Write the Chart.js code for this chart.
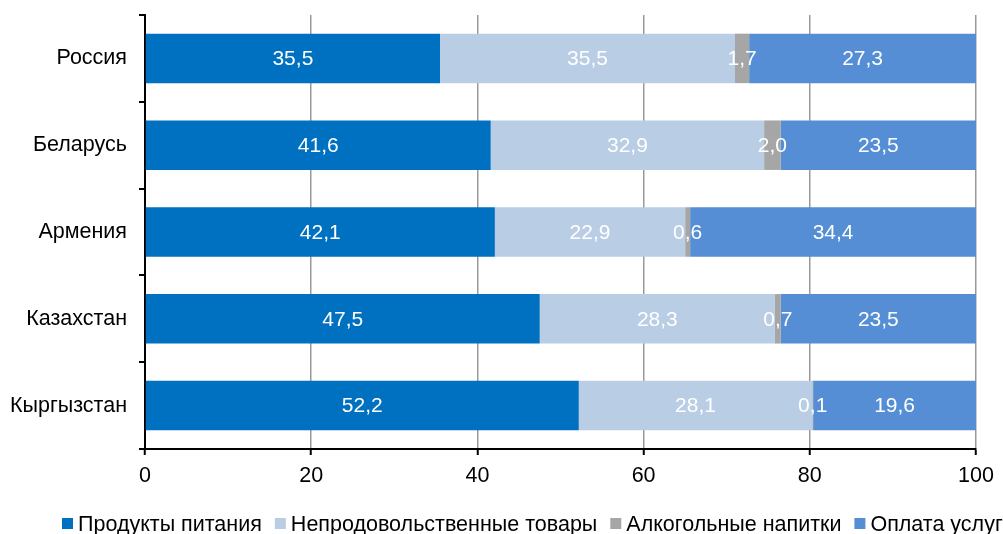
<!DOCTYPE html>
<html>
<head>
<meta charset="utf-8">
<script src="https://cdn.jsdelivr.net/npm/chart.js@4"></script>
<style>
  body { margin: 0; background: #fff; overflow: hidden; }
  #wrap { width: 1003px; height: 534px; position: relative; }
</style>
</head>
<body>
<div id="wrap"><canvas id="myChart"></canvas></div>
<script>
// данные структуры потребительских расходов, %
const countries = ["Россия", "Беларусь", "Армения", "Казахстан", "Кыргызстан"];
const food = [35.5, 41.6, 42.1, 47.5, 52.2];
const nonFood = [35.5, 32.9, 22.9, 28.3, 28.1];
const alcohol = [1.7, 2.0, 0.6, 0.7, 0.1];
const services = [27.3, 23.5, 34.4, 23.5, 19.6];
const xTicks = [0, 20, 40, 60, 80, 100];

const seriesNames = ["Продукты питания", "Непродовольственные товары", "Алкогольные напитки", "Оплата услуг"];
const seriesColors = ["#0070C0", "#B9CDE5", "#A6A6A6", "#558ED5"];

const FONT = "'Liberation Sans', Arial, sans-serif";
const FSIZE = 21.5;

function makeDataset(i, values) {
    return {
        label: seriesNames[i],
        data: values,
        backgroundColor: seriesColors[i],
        borderWidth: 0,
        categoryPercentage: 1,
        barPercentage: 0.57
    };
}

// подписи значений внутри сегментов
const valueLabels = {
    id: 'valueLabels',
    afterDatasetsDraw(chart) {
        const c = chart.ctx;
        c.save();
        c.font = "21px " + FONT;
        c.fillStyle = "#fff";
        c.textAlign = "center";
        c.textBaseline = "middle";
        chart.data.datasets.forEach((ds, i) => {
            chart.getDatasetMeta(i).data.forEach((bar, j) => {
                const p = bar.getCenterPoint();
                c.fillText(ds.data[j].toFixed(1).replace('.', ','), p.x, p.y + 1);
            });
        });
        c.restore();
    }
};

// легенда снизу, начинается слева и уходит за край, как в оригинале
const bottomLegend = {
    id: 'bottomLegend',
    afterDraw(chart) {
        const c = chart.ctx;
        c.save();
        c.font = FSIZE + "px " + FONT;
        c.textBaseline = "alphabetic";
        c.textAlign = "left";
        let x = 62;
        const baseline = 531;
        seriesNames.forEach((name, i) => {
            c.fillStyle = seriesColors[i];
            c.fillRect(x, 518, 11, 11);
            x += 16;
            c.fillStyle = "#000";
            c.fillText(name, x, baseline);
            x += c.measureText(name).width + 13;
        });
        c.restore();
    }
};

let ctx = document.getElementById('myChart').getContext('2d');
let myChart = new Chart(ctx, {
    type: 'bar',
    data: {
        labels: countries,
        datasets: [
            makeDataset(0, food),
            makeDataset(1, nonFood),
            makeDataset(2, alcohol),
            makeDataset(3, services)
        ]
    },
    options: {
        indexAxis: 'y',
        responsive: true,
        maintainAspectRatio: false,
        animation: false,
        devicePixelRatio: 1,
        layout: { padding: { top: 15, right: 27, left: 0, bottom: 0 } },
        plugins: {
            legend: { display: false },
            tooltip: { enabled: false }
        },
        scales: {
            x: {
                stacked: true,
                min: 0,
                max: 100,
                afterBuildTicks: scale => { scale.ticks = xTicks.map(v => ({ value: v })); },
                afterFit: scale => { scale.height = 85; },
                grid: { color: '#999', lineWidth: 1.5, tickColor: '#000', tickLength: 6, tickWidth: 2 },
                border: { color: '#000', width: 2 },
                ticks: { color: '#000', font: { size: FSIZE, family: FONT }, padding: 8, maxRotation: 0 }
            },
            y: {
                stacked: true,
                afterFit: scale => {
                    scale.width = 145;
                    scale.paddingTop = 0;
                    scale.paddingBottom = 0;
                },
                grid: { offset: true, drawOnChartArea: false, tickColor: '#000', tickLength: 6, lineWidth: 2 },
                border: { color: '#000', width: 2 },
                ticks: { color: '#000', font: { size: FSIZE, family: FONT }, padding: 12 }
            }
        }
    },
    plugins: [valueLabels, bottomLegend]
});
</script>
</body>
</html>
